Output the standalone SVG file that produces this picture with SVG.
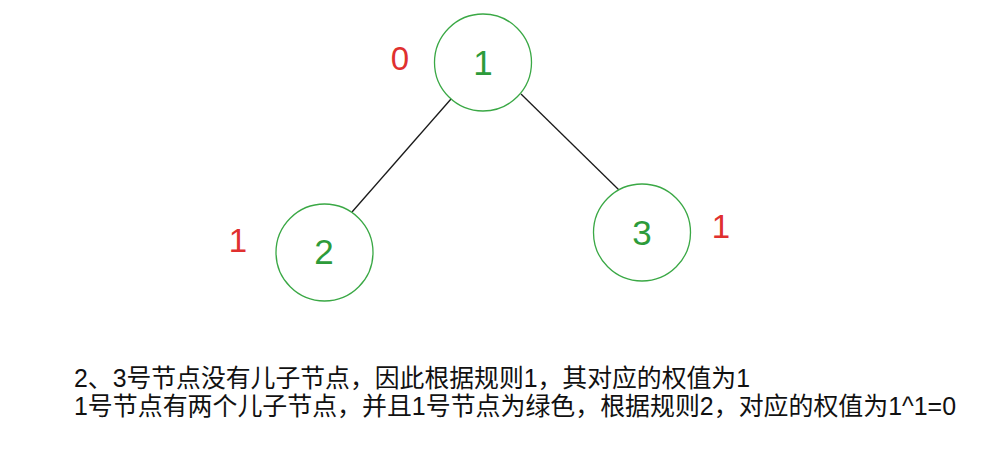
<svg xmlns="http://www.w3.org/2000/svg" width="1004" height="450" viewBox="0 0 1004 450">
  <style>
    .node circle { fill: #ffffff; stroke: #3aa845; stroke-width: 1.3; }
    .node text { font-family: "Liberation Sans", Arial, sans-serif; font-size: 35px; fill: #2d9b3a; text-anchor: middle; }
    .weight { font-family: "Liberation Sans", Arial, sans-serif; font-size: 33px; fill: #e0302f; text-anchor: middle; }
    .edge { stroke: #1a1a1a; stroke-width: 1.3; fill: none; }
    .note { font-family: "Liberation Sans", "Noto Sans CJK SC", sans-serif; font-size: 25px; fill: #111111; }
  </style>
  <rect x="0" y="0" width="1004" height="450" fill="#ffffff"/>
  <g id="connectors">
    <line class="edge" x1="451" y1="99" x2="352" y2="212"/>
    <line class="edge" x1="521" y1="94" x2="619" y2="190"/>
  </g>
  <g id="node1" class="node">
    <circle cx="483" cy="62.5" r="48.5"/>
    <text x="483" y="75">1</text>
  </g>
  <g id="node2" class="node">
    <circle cx="324.5" cy="252.5" r="48.5"/>
    <text x="324" y="264">2</text>
  </g>
  <g id="node3" class="node">
    <circle cx="642" cy="232.5" r="48.5"/>
    <text x="642" y="245">3</text>
  </g>
  <g id="weights">
    <text class="weight" x="400" y="70">0</text>
    <text class="weight" x="238" y="252">1</text>
    <text class="weight" x="721" y="238">1</text>
  </g>
  <g id="notes">
    <text class="note" x="74" y="387" textLength="676" lengthAdjust="spacingAndGlyphs">2、3号节点没有儿子节点，因此根据规则1，其对应的权值为1</text>
    <text class="note" x="74" y="415" textLength="882" lengthAdjust="spacingAndGlyphs">1号节点有两个儿子节点，并且1号节点为绿色，根据规则2，对应的权值为1^1=0</text>
  </g>
</svg>
